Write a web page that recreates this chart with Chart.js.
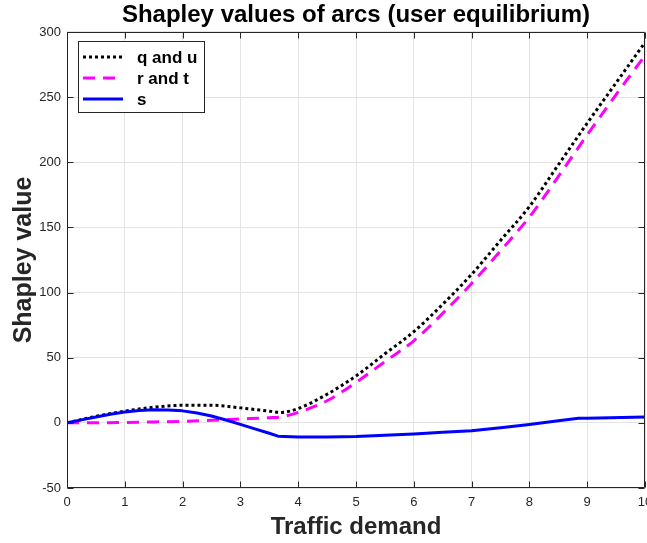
<!DOCTYPE html>
<html>
  <head>
    <title>Shapley values of arcs</title>
    <style>
      html, body { margin: 0; padding: 0; overflow: hidden; background: #fff; }
      #wrap { width: 670px; height: 543px; }
    </style>
  </head>
  <body>
    <div id="wrap"><canvas id="myChart" width="670" height="543"></canvas></div>

    <script src="https://cdn.jsdelivr.net/npm/chart.js"></script>
    <script>

    // values
    const demand_qu = [0, 0.5, 1, 1.5, 2, 2.5, 3, 3.5, 3.7, 4, 4.5, 5, 5.5, 6, 6.5, 7, 7.5, 8, 8.5, 9, 9.5, 10];
    const shapley_qu = [0, 5, 9, 12, 13.5, 13.5, 11.5, 9, 8, 11, 22, 36, 53, 70, 91, 114, 140, 166, 198, 230, 261, 292];

    const demand_rt = [0, 0.5, 1, 1.5, 2, 2.5, 3, 3.5, 3.7, 4, 4.5, 5, 5.5, 6, 6.5, 7, 7.5, 8, 8.5, 9, 9.5, 10];
    const shapley_rt = [0, 0, 0.3, 0.7, 1.2, 2, 3, 4, 4.5, 8, 17, 31, 47, 63, 84, 107, 132, 158, 189, 221, 252, 282];

    const demand_s = [0, 0.25, 0.5, 0.75, 1, 1.25, 1.5, 1.75, 2, 2.25, 2.5, 2.75, 3, 3.25, 3.5, 3.65, 4, 4.5, 5, 5.5, 6, 6.5, 7, 7.5, 8, 8.5, 8.85, 9, 10];
    const shapley_s = [0, 2.3, 4.5, 6.6, 8.3, 9.4, 10, 9.9, 9.2, 7.5, 5.3, 2.2, -1.2, -4.6, -8, -10.2, -10.8, -10.8, -10.5, -9.6, -8.5, -7.3, -6, -3.8, -1.2, 1.6, 3.5, 3.6, 4.5];

    const series_names = ['q and u', 'r and t', 's'];

    const FONT = "'Liberation Sans', Arial, Helvetica, sans-serif";
    const AXIS_COLOR = '#262626';
    const GRID_COLOR = '#e3e3e3';

    function to_points(xs, ys) {
      return xs.map((x, i) => ({x: x, y: ys[i]}));
    }

    // matlab style box with inward ticks, drawn over the lines
    const boxPlugin = {
      id: 'box',
      afterDatasetsDraw(chart) {
        const ctx = chart.ctx;
        const a = chart.chartArea;
        const xs = chart.scales.x, ys = chart.scales.y;
        const l = Math.round(a.left) + 0.5, r = Math.round(a.right) - 0.5;
        const t = Math.round(a.top) + 0.5, b = Math.round(a.bottom) - 0.5;
        const len = 6;
        ctx.save();
        ctx.strokeStyle = AXIS_COLOR;
        ctx.lineWidth = 1;
        ctx.beginPath();
        ctx.rect(l, t, r - l, b - t);
        xs.ticks.forEach(tk => {
          const px = Math.round(xs.getPixelForValue(tk.value)) + 0.5;
          ctx.moveTo(px, b); ctx.lineTo(px, b - len);
          ctx.moveTo(px, t); ctx.lineTo(px, t + len);
        });
        ys.ticks.forEach(tk => {
          const py = Math.round(ys.getPixelForValue(tk.value)) + 0.5;
          ctx.moveTo(l, py); ctx.lineTo(l + len, py);
          ctx.moveTo(r, py); ctx.lineTo(r - len, py);
        });
        ctx.stroke();
        ctx.restore();
      },
      afterDraw(chart) {
        // legend box in the upper left corner
        const ctx = chart.ctx;
        const bx = 78.5, by = 41.5, bw = 126, bh = 71;
        const rows = [57, 78, 99];
        ctx.save();
        ctx.fillStyle = '#fff';
        ctx.fillRect(bx, by, bw, bh);
        ctx.strokeStyle = AXIS_COLOR;
        ctx.lineWidth = 1;
        ctx.strokeRect(bx, by, bw, bh);
        chart.data.datasets.forEach((ds, i) => {
          ctx.strokeStyle = ds.borderColor;
          ctx.lineWidth = ds.borderWidth;
          ctx.setLineDash(ds.borderDash || []);
          ctx.beginPath();
          ctx.moveTo(83, rows[i]);
          ctx.lineTo(123, rows[i]);
          ctx.stroke();
          ctx.setLineDash([]);
          ctx.fillStyle = '#000';
          ctx.font = 'bold 17px ' + FONT;
          ctx.textBaseline = 'middle';
          ctx.textAlign = 'left';
          ctx.fillText(ds.label, 137, rows[i] + 1);
        });
        ctx.restore();
      }
    };

    const data = {
      datasets: [{
        label: series_names[0],
        data: to_points(demand_qu, shapley_qu),
        borderColor: '#000000',
        borderWidth: 3,
        borderDash: [3, 3],
        cubicInterpolationMode: 'monotone',
        order: 3
      }, {
        label: series_names[1],
        data: to_points(demand_rt, shapley_rt),
        borderColor: '#ff00ff',
        borderWidth: 3,
        borderDash: [12, 8],
        cubicInterpolationMode: 'monotone',
        order: 2
      }, {
        label: series_names[2],
        data: to_points(demand_s, shapley_s),
        borderColor: '#0000ff',
        borderWidth: 3,
        tension: 0,
        order: 1
      }]
    };

    const chart_config = {
      type: 'line',
      data: data,
      plugins: [boxPlugin],
      options: {
        responsive: false,
        animation: false,
        layout: { padding: { left: 0, right: 25, top: 0, bottom: 0 } },
        elements: {
          point: { radius: 0 },
          line: { borderCapStyle: 'butt', borderJoinStyle: 'round', fill: false }
        },
        plugins: {
          legend: { display: false },
          tooltip: { enabled: false },
          title: {
            display: true,
            fullSize: false,
            text: 'Shapley values of arcs (user equilibrium)',
            color: '#000',
            font: { family: FONT, size: 24, weight: 'bold' },
            padding: { top: 0.6, bottom: 2.6 }
          }
        },
        scales: {
          x: {
            type: 'linear',
            position: 'bottom',
            min: 0,
            max: 10,
            ticks: { stepSize: 1, padding: 7, maxRotation: 0, color: AXIS_COLOR, font: { family: FONT, size: 13 } },
            grid: { color: GRID_COLOR, drawTicks: false },
            border: { display: false },
            title: {
              display: true,
              text: 'Traffic demand',
              color: AXIS_COLOR,
              font: { family: FONT, size: 24, weight: 'bold' },
              padding: { top: 0, bottom: 1.6 }
            },
            afterFit(scale) { scale.height = 55; }
          },
          y: {
            type: 'linear',
            min: -50,
            max: 300,
            ticks: { stepSize: 50, padding: 6, color: AXIS_COLOR, font: { family: FONT, size: 13 } },
            grid: { color: GRID_COLOR, drawTicks: false },
            border: { display: false },
            title: {
              display: true,
              text: 'Shapley value',
              color: AXIS_COLOR,
              font: { family: FONT, size: 25, weight: 'bold' },
              padding: { top: 9, bottom: 0 }
            },
            afterFit(scale) { scale.width = 67; }
          }
        }
      }
    };

    new Chart(document.getElementById('myChart'), chart_config);

    </script>
  </body>
</html>
